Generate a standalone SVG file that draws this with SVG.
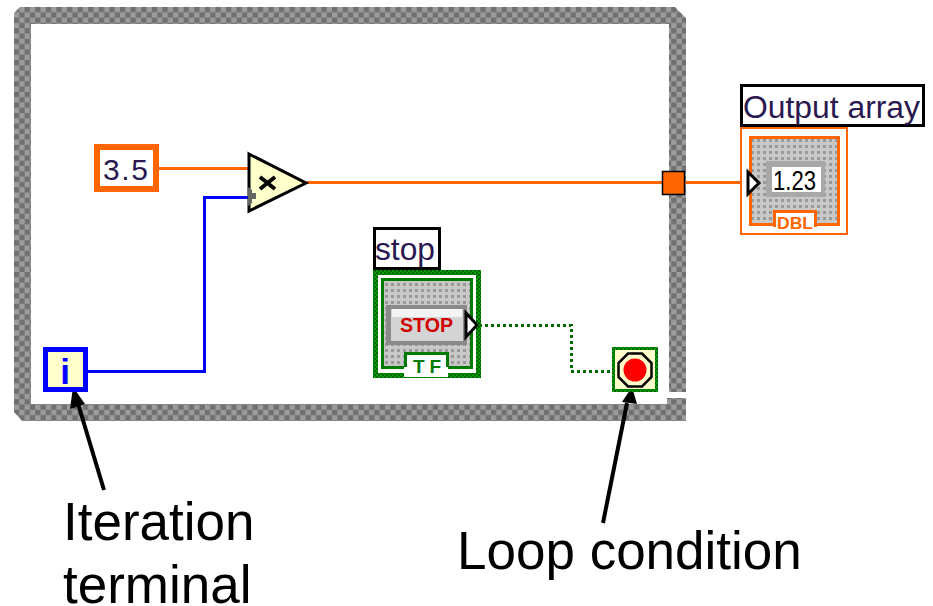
<svg xmlns="http://www.w3.org/2000/svg" width="933" height="606" viewBox="0 0 933 606">
<style>
.cap{font-family:"Liberation Sans",Arial,sans-serif;font-size:53px;fill:#000}
.lbl{font-family:"Liberation Sans",Arial,sans-serif;fill:#2a1850}
.lblbox{fill:#fff;stroke:#000;stroke-width:3}
.w{fill:none;stroke-width:3;shape-rendering:crispEdges}
.or{stroke:#ff6600}
.bl{stroke:#0000ff}
.gr{stroke:#006a00;stroke-dasharray:3 3}
.tag{font-family:"Liberation Sans",Arial,sans-serif;font-weight:700}
</style>
<defs>
<pattern id="frame" width="10.600" height="10.600" patternUnits="userSpaceOnUse" x="14" y="7">
<rect width="10.600" height="10.600" fill="#9c9c9c"/><rect width="5.300" height="5.300" fill="#707070"/><rect x="5.300" y="5.300" width="5.300" height="5.300" fill="#707070"/>
</pattern>
<pattern id="dots" width="6" height="6" patternUnits="userSpaceOnUse">
<rect width="6" height="6" fill="#c8c8c8"/><rect x="1" y="1" width="3" height="3" fill="#999"/>
</pattern>
<pattern id="gchk" width="4" height="4" patternUnits="userSpaceOnUse">
<rect width="4" height="4" fill="#00a000"/><rect width="2" height="2" fill="#006000"/><rect x="2" y="2" width="2" height="2" fill="#006000"/>
</pattern>
</defs>
<g id="while-loop">
<path fill="url(#frame)" d="M20 7H675L686 18V392H669V24H31V404H667V398H686V421H22L14 412V13Z"/>
</g>
<g id="connectors">
<path class="w or" d="M159 168.500H248"/>
<path class="w or" d="M307 182.500H662M685 182.500H746"/>
<path class="w bl" d="M88 371H204V197H250"/>
<path class="w gr" d="M479 325H571V371H612"/>
<path d="M104 490L76 397" stroke="#000" stroke-width="4" fill="none"/>
<path d="M73 387L85 404L70 409Z" fill="#000"/>
<path d="M603 523L627 403" stroke="#000" stroke-width="4" fill="none"/>
<path d="M632 387L637 404L622 402Z" fill="#000"/>
</g>
<g id="constant-3-5">
<rect x="97" y="147" width="59" height="42" fill="#fff" stroke="#ff6600" stroke-width="6"/>
<text class="lbl" x="103" y="180" font-size="30" textLength="45" lengthAdjust="spacing">3.5</text>
</g>
<g id="multiply">
<path d="M249 154L306 183L249 211Z" fill="#ffffcc" stroke="#000" stroke-width="3"/>
<path d="M248 187L252 190V193H256V199H252V203L248 206Z" fill="#666"/>
<path d="M260 177L275 189M275 177L260 189" stroke="#000" stroke-width="4"/>
</g>
<g id="tunnel">
<rect x="662.500" y="171.500" width="22" height="23" fill="#ff6600" stroke="#000" stroke-width="1.500"/>
</g>
<g id="output-array">
<rect class="lblbox" x="741.500" y="85.500" width="182" height="40"/>
<text class="lbl" x="743" y="118" font-size="31" textLength="177" lengthAdjust="spacingAndGlyphs">Output array</text>
<rect x="741" y="128" width="106" height="106" fill="#fff" stroke="#ff6600" stroke-width="2"/>
<rect x="750.500" y="137.500" width="88" height="87" fill="url(#dots)" stroke="#ff6600" stroke-width="3"/>
<rect x="766" y="161" width="59" height="36" fill="#a8a8a8"/>
<rect x="772" y="167" width="49" height="25" fill="#fff"/>
<text x="773" y="190" font-family="Liberation Sans,Arial,sans-serif" font-size="27" textLength="43" lengthAdjust="spacingAndGlyphs" fill="#000">1.23</text>
<rect x="773" y="210" width="44" height="23" fill="#fff"/>
<path d="M774.500 227V211.500H815.500V227" fill="none" stroke="#ff6600" stroke-width="3"/>
<text class="tag" x="777" y="229" font-size="17" textLength="36" lengthAdjust="spacingAndGlyphs" fill="#ff6600">DBL</text>
<path d="M748 172L759 183L748 194Z" fill="#fff" stroke="#000" stroke-width="3"/>
</g>
<g id="stop-control">
<rect class="lblbox" x="374.500" y="228.500" width="65" height="40"/>
<text class="lbl" x="375" y="260" font-size="31" textLength="60" lengthAdjust="spacingAndGlyphs">stop</text>
<rect x="375.500" y="272.500" width="103" height="103" fill="#fff" stroke="url(#gchk)" stroke-width="5"/>
<rect x="382.500" y="279.500" width="89" height="88" fill="url(#dots)" stroke="#007a00" stroke-width="3"/>
<rect x="386" y="305" width="81" height="40" fill="#8a8a8a"/>
<rect x="391" y="309" width="72" height="32" fill="#d4d4d4"/>
<rect x="392" y="309" width="70" height="8" fill="#f4f4f4"/>
<text class="tag" x="400" y="332" font-size="20" textLength="53" lengthAdjust="spacingAndGlyphs" fill="#d00000">STOP</text>
<rect x="404" y="352" width="44" height="25" fill="#fff"/>
<path d="M405.500 367V353.500H447.500V367" fill="none" stroke="#007a00" stroke-width="3"/>
<text class="tag" x="413" y="373" font-size="19" textLength="28" lengthAdjust="spacing" fill="#007a00">T F</text>
<path d="M466 313L477 325L466 337Z" fill="#fff" stroke="#000" stroke-width="3"/>
</g>
<g id="iteration-terminal">
<rect x="45.500" y="349.500" width="40" height="40" fill="#ffffcc" stroke="#0000ff" stroke-width="5"/>
<text x="65" y="384" font-family="Liberation Sans,Arial,sans-serif" font-weight="700" font-size="35" text-anchor="middle" fill="#0000ff">i</text>
</g>
<g id="loop-condition">
<rect x="613.500" y="348.500" width="43" height="42" fill="#ffffcc" stroke="url(#gchk)" stroke-width="3"/>
<path d="M628 353.500H642L651.500 363V377L642 386.500H628L618.500 377V363Z" fill="#ffffcc" stroke="#000" stroke-width="2.500"/>
<circle cx="635" cy="370" r="11.500" fill="#ff0000"/>
</g>
<g id="captions">
<text class="cap" x="63" y="540">Iteration</text>
<text class="cap" x="63" y="603">terminal</text>
<text class="cap" x="457" y="569">Loop condition</text>
</g>
</svg>
